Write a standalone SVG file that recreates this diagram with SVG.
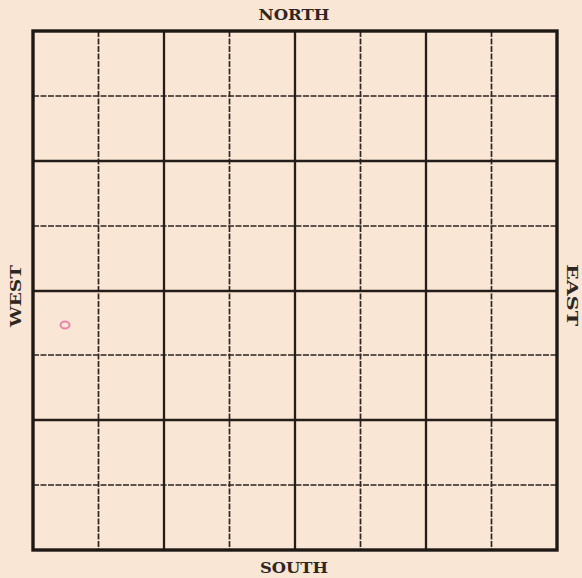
<svg xmlns="http://www.w3.org/2000/svg" width="582" height="578" viewBox="0 0 582 578">
<style>
.lbl{font-family:"DejaVu Serif","Liberation Serif",serif;font-weight:bold;font-size:15px;fill:#2e2622}
.solid{stroke:#241d1a;stroke-width:2.3;fill:none}
.dash{stroke:#2e2622;stroke-width:1.7;stroke-dasharray:6 1.5;fill:none}
.border{stroke:#1f1916;stroke-width:3.4;fill:none}
</style>
<rect width="582" height="578" fill="#f9e6d5"/>
<g id="grid">
<g id="dashed-lines">
<path class="dash" d="M98.5 31V550M229.5 31V550M360.5 31V550M491.5 31V550"/>
<path class="dash" d="M33 96H557M33 226H557M33 355H557M33 485H557"/>
</g>
<g id="solid-lines">
<path class="solid" d="M164 31V550M295 31V550M426 31V550"/>
<path class="solid" d="M33 161H557M33 291H557M33 420H557"/>
</g>
<rect id="border" class="border" x="33" y="31" width="524" height="519"/>
</g>
<g id="labels">
<text id="north" class="lbl" x="294" y="20" text-anchor="middle" textLength="71" lengthAdjust="spacingAndGlyphs">NORTH</text>
<text id="south" class="lbl" x="294" y="573" text-anchor="middle" textLength="68" lengthAdjust="spacingAndGlyphs">SOUTH</text>
<text id="west" class="lbl" transform="translate(21 296) rotate(-90)" text-anchor="middle" textLength="62" lengthAdjust="spacingAndGlyphs">WEST</text>
<text id="east" class="lbl" transform="translate(567 295) rotate(90)" text-anchor="middle" textLength="62" lengthAdjust="spacingAndGlyphs">EAST</text>
</g>
<ellipse cx="65" cy="325" rx="4.5" ry="3.5" fill="none" stroke="#e86ca0" stroke-width="2" opacity="0.8"/>
</svg>
